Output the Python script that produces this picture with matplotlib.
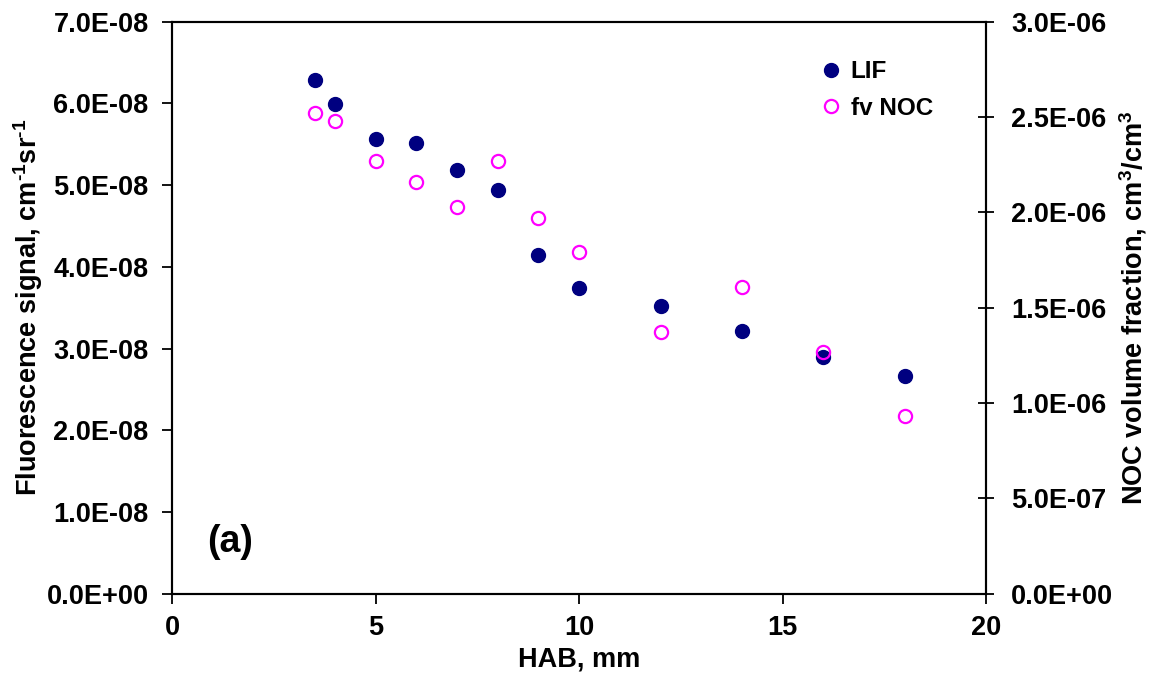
import matplotlib
matplotlib.use("Agg")
import matplotlib.pyplot as plt
from matplotlib.ticker import FuncFormatter

plt.rcParams['font.family'] = ['Liberation Sans', 'DejaVu Sans']
plt.rcParams['font.weight'] = 'bold'
plt.rcParams['mathtext.fontset'] = 'custom'
plt.rcParams['mathtext.bf'] = 'Liberation Sans:bold'
plt.rcParams['mathtext.rm'] = 'Liberation Sans:bold'
plt.rcParams['mathtext.default'] = 'bf'

# height above burner, mm
hab = [3.5, 4, 5, 6, 7, 8, 9, 10, 12, 14, 16, 18]
# LIF signal, cm-1 sr-1
lif = [6.29e-8, 5.99e-8, 5.56e-8, 5.51e-8, 5.19e-8, 4.94e-8,
       4.15e-8, 3.74e-8, 3.52e-8, 3.22e-8, 2.90e-8, 2.67e-8]
# NOC volume fraction, cm3/cm3
fv_noc = [2.52e-6, 2.48e-6, 2.27e-6, 2.16e-6, 2.03e-6, 2.27e-6,
          1.97e-6, 1.79e-6, 1.37e-6, 1.61e-6, 1.27e-6, 0.93e-6]

fs = 19.5
sci = FuncFormatter(lambda v, pos: '{:.1E}'.format(v))

fig = plt.figure(figsize=(11.54, 6.91), dpi=100)
ax = fig.add_axes([0.1493, 0.1408, 0.8544 - 0.1493, 0.9686 - 0.1408])
ax2 = ax.twinx()

l1, = ax.plot(hab, lif, 'o', color='#000080', markersize=10, label='LIF')
l2, = ax2.plot(hab, fv_noc, 'o', markerfacecolor='none', markeredgecolor='#FF00FF',
               markeredgewidth=1.6, markersize=9.5, label='fv NOC')

ax.set_xlim(0, 20)
ax.set_ylim(0, 7e-8)
ax2.set_ylim(0, 3e-6)
ax.set_xticks([0, 5, 10, 15, 20])
ax.set_yticks([i * 1e-8 for i in range(8)])
ax2.set_yticks([i * 5e-7 for i in range(7)])
ax.yaxis.set_major_formatter(sci)
ax2.yaxis.set_major_formatter(sci)

for a in (ax, ax2):
    for s in a.spines.values():
        s.set_linewidth(1.5)
ax.tick_params(axis='both', direction='out', length=7, width=1.3,
               labelsize=fs, pad=8)
ax.tick_params(axis='y', pad=10)
ax2.tick_params(axis='y', direction='inout', length=12, width=1.3,
                labelsize=fs, pad=12)

ax.set_xlabel('HAB, mm', fontsize=fs, fontweight='bold', labelpad=4)
ax.set_ylabel(r'Fluorescence signal, cm$^{\text{-}1}$sr$^{\text{-}1}$', fontsize=fs,
              fontweight='bold', labelpad=1)
ax2.set_ylabel(r'NOC volume fraction, cm$^{3}$/cm$^{3}$', fontsize=fs,
               fontweight='bold', labelpad=3)

ax.text(0.0705, 0.09, '(a)', transform=ax.transAxes, fontsize=27,
        fontweight='bold', va='center', ha='center')

ax.legend([l1, l2], ['LIF', 'fv NOC'], loc='upper left',
          bbox_to_anchor=(0.795, 0.933), frameon=False, fontsize=17.5,
          handlelength=1.0, handletextpad=0.3, borderpad=0, borderaxespad=0,
          labelspacing=0.57)

fig.savefig('out.png', dpi=100)
